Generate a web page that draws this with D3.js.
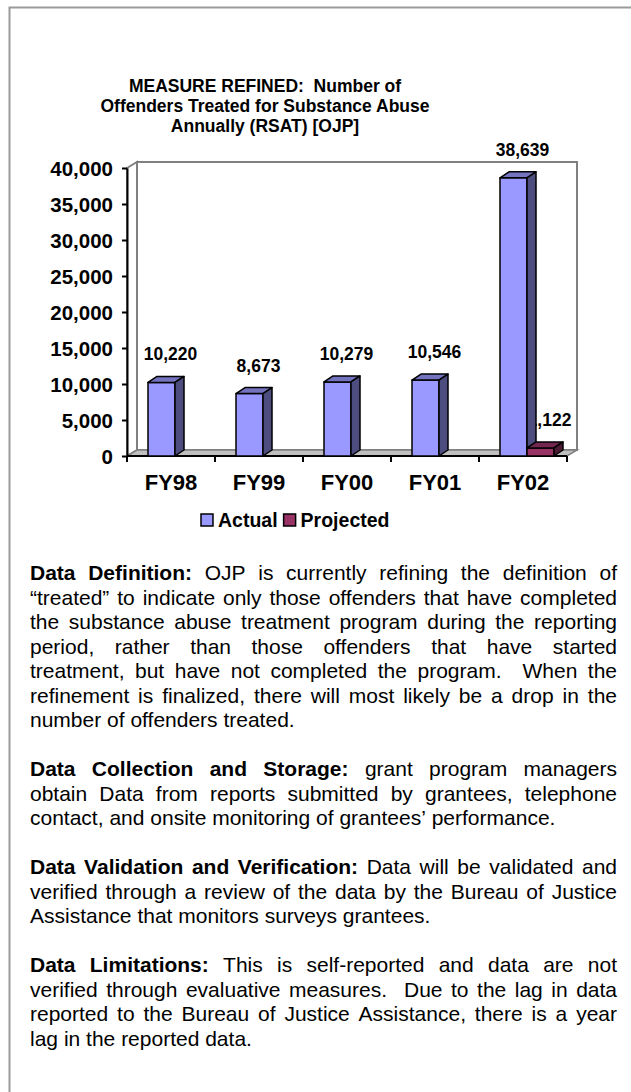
<!DOCTYPE html>
<html>
<head>
<meta charset="utf-8">
<script src="https://cdn.jsdelivr.net/npm/d3@7"></script>
<style>
body { margin: 0; background: #fff; }
svg text { font-family: "Liberation Sans", Arial, sans-serif; fill: #000; white-space: pre; }
</style>
</head>
<body>
<div id="canvas"></div>
<script>
// ----------------------------------------------------------
// DATA -----------------------------------------------------
// ----------------------------------------------------------
var categories = ["FY98", "FY99", "FY00", "FY01", "FY02"];
var series_names = ["Actual", "Projected"];
var actual_values = [10220, 8673, 10279, 10546, 38639];
var projected_values = [null, null, null, null, 1122];
var y_ticks = [0, 5000, 10000, 15000, 20000, 25000, 30000, 35000, 40000];

var title_lines = [
"MEASURE REFINED:  Number of",
"Offenders Treated for Substance Abuse",
"Annually (RSAT) [OJP]"
];

var notes = [
{
lead: "Data Definition:",
lines: [
"Data Definition: OJP is currently refining the definition of",
"\u201Ctreated\u201D to indicate only those offenders that have completed",
"the substance abuse treatment program during the reporting",
"period, rather than those offenders that have started",
"treatment, but have not completed the program.  When the",
"refinement is finalized, there will most likely be a drop in the",
"number of offenders treated."
]
},
{
lead: "Data Collection and Storage:",
lines: [
"Data Collection and Storage: grant program managers",
"obtain Data from reports submitted by grantees, telephone",
"contact, and onsite monitoring of grantees\u2019 performance."
]
},
{
lead: "Data Validation and Verification:",
lines: [
"Data Validation and Verification: Data will be validated and",
"verified through a review of the data by the Bureau of Justice",
"Assistance that monitors surveys grantees."
]
},
{
lead: "Data Limitations:",
lines: [
"Data Limitations: This is self-reported and data are not",
"verified through evaluative measures.  Due to the lag in data",
"reported to the Bureau of Justice Assistance, there is a year",
"lag in the reported data."
]
}
];

// ----------------------------------------------------------
// SETTINGS -------------------------------------------------
// ----------------------------------------------------------
var data_set = {
container_width: 631,
container_height: 1092,
plot_left: 127,
plot_right: 567,
plot_top: 168,
plot_bottom: 456,
wall_dx: 10,
wall_dy: -6,
bar_dx: 9,
bar_dy: -6,
color_actual: ["#9999ff", "#7373bf", "#4d4d80"],
color_projected: ["#993366", "#732650", "#4d1a33"],
color_wall: "#808080",
color_floor: "#c0c0c0",
color_border: "#9a9a9a"
};

var note_top = 580;
var note_line = 24.5;
var note_size = 21;

// ----------------------------------------------------------
// STRUCTURE ------------------------------------------------
// ----------------------------------------------------------
var container = d3.select("#canvas").append("svg")
.attr("width", data_set.container_width)
.attr("height", data_set.container_height)
.style("display", "block")
.style("background-color", "#fff");

// page frame
container.append("path")
.attr("d", "M9.5,1092 V7.5 H631")
.attr("fill", "none")
.attr("stroke", data_set.color_border)
.attr("stroke-width", 2);

var layout_group = container.append("g").attr("class", "layout_group");
var label_group = container.append("g").attr("class", "label_group");
var gfx_group = container.append("g").attr("class", "gfx_group");
var text_group = container.append("g").attr("class", "text_group");

// ----------------------------------------------------------
// SCALES ---------------------------------------------------
// ----------------------------------------------------------
var yScale = d3.scaleLinear()
.domain([0, 40000])
.range([data_set.plot_bottom, data_set.plot_top]);

var xScale = d3.scaleBand()
.domain(categories)
.range([data_set.plot_left, data_set.plot_right]);

var sScale = d3.scaleBand()
.domain(series_names)
.range([21, 75]);

// ----------------------------------------------------------
// WALLS / FLOOR --------------------------------------------
// ----------------------------------------------------------
var L = data_set.plot_left, R = data_set.plot_right;
var T = data_set.plot_top, B = data_set.plot_bottom;
var wdx = data_set.wall_dx, wdy = data_set.wall_dy;

// back wall
layout_group.append("rect")
.attr("x", L + wdx).attr("y", T + wdy)
.attr("width", R - L).attr("height", B - T)
.attr("fill", "#fff")
.attr("stroke", data_set.color_wall)
.attr("stroke-width", 2);

// side wall
layout_group.append("polygon")
.attr("points", [[L, T], [L + wdx, T + wdy], [L + wdx, B + wdy], [L, B]].join(" "))
.attr("fill", "#fff")
.attr("stroke", data_set.color_wall)
.attr("stroke-width", 2);

// floor
layout_group.append("polygon")
.attr("points", [[L, B], [L + wdx, B + wdy], [R + wdx, B + wdy], [R, B]].join(" "))
.attr("fill", data_set.color_floor)
.attr("stroke", data_set.color_wall)
.attr("stroke-width", 1.5);

// ----------------------------------------------------------
// AXES -----------------------------------------------------
// ----------------------------------------------------------
var yAxis = layout_group.append("g")
.attr("transform", `translate(${L}, 0)`)
.call(d3.axisLeft(yScale)
.tickValues(y_ticks)
.tickFormat(d3.format(","))
.tickSize(5)
.tickSizeOuter(0));

yAxis.select(".domain").attr("stroke", "#000").attr("stroke-width", 2);
yAxis.selectAll(".tick line").attr("stroke", "#000").attr("stroke-width", 2);
yAxis.selectAll(".tick text")
.attr("x", -14)
.attr("dy", "0.36em")
.style("font-size", "20.5px")
.style("font-weight", "bold");

var xAxis = layout_group.append("g")
.attr("transform", `translate(0, ${B})`)
.call(d3.axisBottom(xScale).tickSize(0));

xAxis.select(".domain").remove();
xAxis.selectAll(".tick text")
.attr("y", 34)
.attr("dy", 0)
.style("font-size", "22px")
.style("font-weight", "bold");

layout_group.append("line")
.attr("x1", L).attr("x2", R)
.attr("y1", B).attr("y2", B)
.attr("stroke", "#000").attr("stroke-width", 2);

layout_group.selectAll(".xtick")
.data(categories.concat(["end"]))
.enter()
.append("line")
.attr("class", "xtick")
.attr("x1", (d) => d === "end" ? R : xScale(d))
.attr("x2", (d) => d === "end" ? R : xScale(d))
.attr("y1", B).attr("y2", B + 6)
.attr("stroke", "#000").attr("stroke-width", 2);

// ----------------------------------------------------------
// BARS -----------------------------------------------------
// ----------------------------------------------------------
var bar_data = [];
categories.forEach(function (c, i) {
if (actual_values[i] != null) bar_data.push({ cat: c, series: "Actual", value: actual_values[i], colors: data_set.color_actual });
if (projected_values[i] != null) bar_data.push({ cat: c, series: "Projected", value: projected_values[i], colors: data_set.color_projected });
});

var bdx = data_set.bar_dx, bdy = data_set.bar_dy;
var bw = sScale.bandwidth();

// value labels sit under the bars (the FY02 actual bar hides part of 1,122)
label_group.selectAll("text")
.data(bar_data)
.enter()
.append("text")
.attr("text-anchor", "middle")
.attr("x", (d) => xScale(d.cat) + sScale(d.series) + bw / 2 + bdx)
.attr("y", (d) => yScale(d.value) - 22)
.style("font-size", "17.5px")
.style("font-weight", "bold")
.text((d) => d3.format(",")(d.value));

var gfx_bar = gfx_group.selectAll(".gfx_bar")
.data(bar_data)
.enter()
.append("g")
.attr("class", "gfx_bar")
.attr("stroke", "#000")
.attr("stroke-width", 1.5)
.attr("stroke-linejoin", "round");

gfx_bar.append("rect")
.attr("x", (d) => xScale(d.cat) + sScale(d.series))
.attr("y", (d) => yScale(d.value))
.attr("width", bw)
.attr("height", (d) => yScale(0) - yScale(d.value))
.attr("fill", (d) => d.colors[0]);

gfx_bar.append("polygon")
.attr("points", function (d) {
var x0 = xScale(d.cat) + sScale(d.series), yt = yScale(d.value);
return [[x0, yt], [x0 + bdx, yt + bdy], [x0 + bw + bdx, yt + bdy], [x0 + bw, yt]].join(" ");
})
.attr("fill", (d) => d.colors[1]);

gfx_bar.append("polygon")
.attr("points", function (d) {
var x1 = xScale(d.cat) + sScale(d.series) + bw, yt = yScale(d.value), yb = yScale(0);
return [[x1, yt], [x1 + bdx, yt + bdy], [x1 + bdx, yb + bdy], [x1, yb]].join(" ");
})
.attr("fill", (d) => d.colors[2]);

// ----------------------------------------------------------
// TITLE / LEGEND -------------------------------------------
// ----------------------------------------------------------
text_group.selectAll(".title")
.data(title_lines)
.enter()
.append("text")
.attr("class", "title")
.attr("text-anchor", "middle")
.attr("x", 265)
.attr("y", (d, i) => 92 + i * 20)
.style("font-size", "17.5px")
.style("font-weight", "bold")
.text((d) => d);

var legend = text_group.append("g").attr("class", "legend");
var lx = 201;
series_names.forEach(function (s, i) {
var colors = i === 0 ? data_set.color_actual : data_set.color_projected;
legend.append("rect")
.attr("x", lx).attr("y", 514)
.attr("width", 12).attr("height", 12)
.attr("fill", colors[0])
.attr("stroke", "#000").attr("stroke-width", 1.5);
var t = legend.append("text")
.attr("x", lx + 17)
.attr("y", 527)
.style("font-size", "19.5px")
.style("font-weight", "bold")
.text(s);
lx += 17 + t.node().getComputedTextLength() + 6;
});

// ----------------------------------------------------------
// NOTES ----------------------------------------------------
// ----------------------------------------------------------
var note_left = 30, note_right = 617;
var avail = note_right - note_left;

function measure(str, bold) {
var t = text_group.append("text")
.style("font-size", note_size + "px")
.style("font-weight", bold ? "bold" : "normal")
.text(str);
var w = t.node().getComputedTextLength();
t.remove();
return w;
}
var space_w = measure("n n", false) - measure("nn", false);

var row = 0;
notes.forEach(function (p, pi) {
var n_bold = p.lead.split(" ").length;
p.lines.forEach(function (line, li) {
var tokens = line.split(" ").map(function (w, k) {
return { text: w, bold: li === 0 && k < n_bold };
});
tokens.forEach(function (tk) { tk.w = tk.text ? measure(tk.text, tk.bold) : 0; });
var total = d3.sum(tokens, (tk) => tk.w);
var last = li === p.lines.length - 1;
var gap = last ? space_w : (avail - total) / (tokens.length - 1);

var g = text_group.append("g")
.attr("transform", `translate(${note_left}, ${note_top + row * note_line})`);
var cx = 0;
tokens.forEach(function (tk) {
if (tk.text) {
g.append("text")
.attr("x", cx)
.style("font-size", note_size + "px")
.style("font-weight", tk.bold ? "bold" : "normal")
.text(tk.text);
}
cx += tk.w + gap;
});
row++;
});
row++; // blank line between paragraphs
});
</script>
</body>
</html>
